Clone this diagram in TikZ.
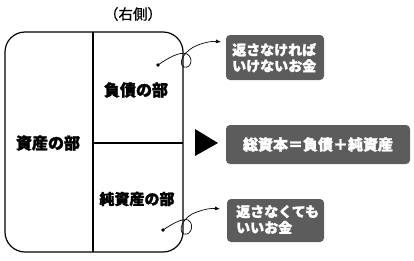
\documentclass[tikz,border=0pt]{standalone}
\usepackage{fontspec}
\setmainfont{Noto Sans CJK JP}
\newfontfamily\cjk{Noto Sans CJK JP}[FakeBold=0.6]
\newfontfamily\cjkb{Noto Sans CJK JP Bold}[FakeBold=1.6]
\usetikzlibrary{arrows.meta}
\definecolor{boxgray}{RGB}{92,92,92}
\tikzset{
  lbl/.style={font=\cjkb\bfseries\fontsize{16}{18}\selectfont, inner sep=0pt},
  note/.style={text=white, font=\cjkb\bfseries\fontsize{14}{16}\selectfont, align=left, inner sep=0pt, anchor=north west},
  curl/.style={line width=0.7pt, -{Latex[length=5pt,width=4pt]}},
  frame/.style={line width=1.2pt}
}
\begin{document}
\begin{tikzpicture}[x=1pt,y=-1pt]
\useasboundingbox (0,0) rectangle (414,260);
% main box
\draw[frame, rounded corners=20pt] (5,32) rectangle (183,252);
\draw[frame] (93,32) -- (93,252);
\draw[frame] (93,143) -- (183,143);
\node[font=\cjk\fontsize{14.5}{16}\selectfont, inner sep=0pt] (right) at (133,14) {（右側）};
\node[lbl] (asset) at (48,143) {資産の部};
\node[lbl] (debt) at (136,90) {負債の部};
\node[lbl, font=\cjkb\bfseries\fontsize{15}{17}\selectfont] (equity) at (137,199) {純資産の部};
% gray notes
\fill[boxgray, rounded corners=4pt] (226,35) rectangle (324,80);
\node[note] (n1) at (232,43) {返さなければ\\いけないお金};
\fill[boxgray, rounded corners=4pt] (226,125) rectangle (410,164);
\node[note, anchor=center, font=\cjkb\bfseries\fontsize{15}{17}\selectfont] (n2) at (318,144.5) {総資本＝負債＋純資産};
\fill[boxgray, rounded corners=4pt] (227,199) rectangle (324,242);
\node[note] (n3) at (236,205) {返さなくても\\いいお金};
% triangle
\fill (195,129) -- (218,143) -- (195,156) -- cycle;
% curls
\coordinate (d1) at (158,65);
\coordinate (e1) at (221,42);
\fill (d1) circle (1.8pt);
\draw[curl] (d1) .. controls (168,58) and (180,51) .. (187,54)
  .. controls (194,58) and (191,69) .. (184,67)
  .. controls (177,64) and (184,50) .. (198,45)
  .. controls (206,42) and (213,41) .. (e1);
\coordinate (d2) at (163,230);
\coordinate (e2) at (220,209);
\fill (d2) circle (1.8pt);
\draw[curl] (d2) .. controls (172,224) and (182,218) .. (188,220)
  .. controls (195,224) and (191,236) .. (184,234)
  .. controls (177,231) and (183,216) .. (197,212)
  .. controls (205,209) and (212,208) .. (e2);
\end{tikzpicture}
\end{document}
